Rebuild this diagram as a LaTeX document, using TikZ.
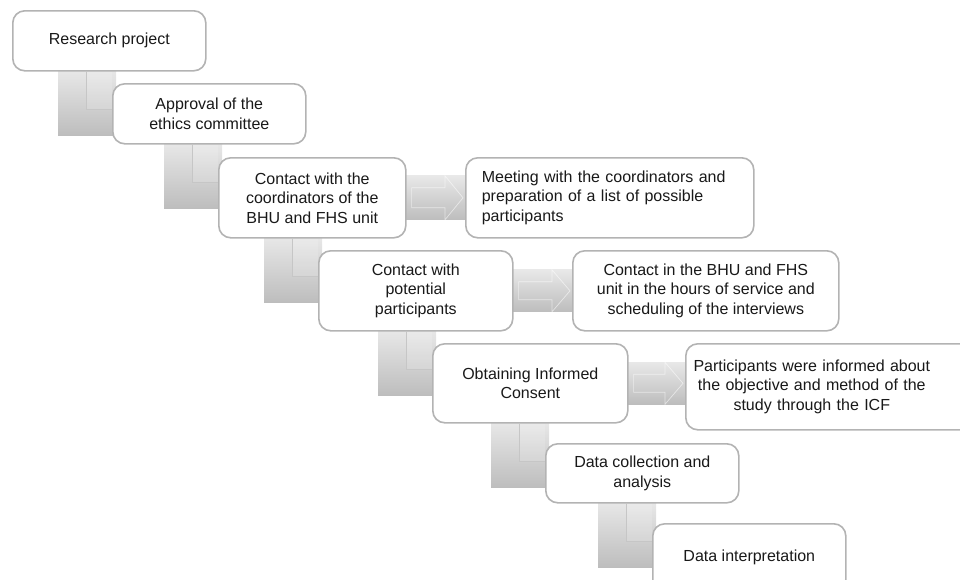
\documentclass[tikz,border=0pt]{standalone}
\usepackage{fontspec}
\setmainfont{Liberation Sans}
\usetikzlibrary{backgrounds}

\definecolor{boxline}{HTML}{B3B3B3}
\definecolor{shadetop}{HTML}{E8E8E8}
\definecolor{shadebot}{HTML}{BDBDBD}
\definecolor{notchline}{HTML}{C6C6C6}

\begin{document}
\begin{tikzpicture}[x=1pt,y=-1pt]
	\tikzstyle{stepbox} = [draw=boxline, line width=1.6pt, fill=white, rounded corners=12pt, anchor=north west, align=center, inner sep=0pt, text=black!90, font=\fontsize{16}{19.5}\selectfont]
	\tikzstyle{grayfill} = [top color=shadetop, bottom color=shadebot]
	\tikzstyle{notchfill} = [fill=white, opacity=0.15]
	\tikzstyle{notch line} = [draw=notchline, line width=0.8pt]
	\tikzstyle{flow line} = [draw=white, line width=0.7pt, opacity=0.55]

	\useasboundingbox (0,0) rectangle (960,579);
	\clip (0,0) rectangle (960,579);

	% steps going down
	\node[stepbox, minimum width=193pt, minimum height=60pt] (research) at (12,10) {Research project};
	\node[stepbox, minimum width=193pt, minimum height=60pt] (ethics) at (112,83) {Approval of the\\ethics committee};
	\node[stepbox, minimum width=187pt, minimum height=80pt] (coord) at (218,157) {Contact with the\\coordinators of the\\BHU and FHS unit};
	\node[stepbox, minimum width=194pt, minimum height=80pt] (contact) at (318,250) {Contact with\\potential\\participants};
	\node[stepbox, minimum width=195pt, minimum height=79pt] (consent) at (432,343) {Obtaining Informed\\Consent};
	\node[stepbox, minimum width=193pt, minimum height=59pt] (collect) at (545,443) {Data collection and\\analysis};
	\node[stepbox, minimum width=193pt, minimum height=68pt] (interp) at (652,523) {Data interpretation};

	% boxes on the side
	\node[stepbox, text width=256pt, inner xsep=16pt, align=left, minimum height=80pt] (meeting) at (465,157) {Meeting with the coordinators and\\preparation of a list of possible\\participants};
	\node[stepbox, minimum width=266pt, minimum height=80pt] (schedule) at (572,250) {Contact in the BHU and FHS\\unit in the hours of service and\\scheduling of the interviews};
	\node[stepbox, text width=292pt, inner xsep=2pt, align=left, minimum height=86pt] (icf) at (685,343) {\parbox{248pt}{\centering Participants were informed about\\the objective and method of the\\study through the ICF}};

	\begin{scope}[on background layer]
		% bent connectors
		\shade[grayfill] ([xshift=-54pt,yshift=2pt]ethics.west |- research.south) rectangle ++(58,66);
		\fill[notchfill] ([xshift=-26pt]ethics.west |- research.south) rectangle ++(26,38);
		\draw[notch line] ([xshift=-26pt]ethics.west |- research.south) -- ++(0,38) -- ++(26,0);

		\shade[grayfill] ([xshift=-54pt,yshift=2pt]coord.west |- ethics.south) rectangle ++(58,66);
		\fill[notchfill] ([xshift=-26pt]coord.west |- ethics.south) rectangle ++(26,38);
		\draw[notch line] ([xshift=-26pt]coord.west |- ethics.south) -- ++(0,38) -- ++(26,0);

		\shade[grayfill] ([xshift=-54pt,yshift=2pt]contact.west |- coord.south) rectangle ++(58,66);
		\fill[notchfill] ([xshift=-26pt]contact.west |- coord.south) rectangle ++(26,38);
		\draw[notch line] ([xshift=-26pt]contact.west |- coord.south) -- ++(0,38) -- ++(26,0);

		\shade[grayfill] ([xshift=-54pt,yshift=2pt]consent.west |- contact.south) rectangle ++(58,66);
		\fill[notchfill] ([xshift=-26pt]consent.west |- contact.south) rectangle ++(26,38);
		\draw[notch line] ([xshift=-26pt]consent.west |- contact.south) -- ++(0,38) -- ++(26,0);

		\shade[grayfill] ([xshift=-54pt,yshift=2pt]collect.west |- consent.south) rectangle ++(58,66);
		\fill[notchfill] ([xshift=-26pt]collect.west |- consent.south) rectangle ++(26,38);
		\draw[notch line] ([xshift=-26pt]collect.west |- consent.south) -- ++(0,38) -- ++(26,0);

		\shade[grayfill] ([xshift=-54pt,yshift=2pt]interp.west |- collect.south) rectangle ++(58,66);
		\fill[notchfill] ([xshift=-26pt]interp.west |- collect.south) rectangle ++(26,38);
		\draw[notch line] ([xshift=-26pt]interp.west |- collect.south) -- ++(0,38) -- ++(26,0);

		% side arrows
		\shade[grayfill] ([xshift=-4pt,yshift=22pt]coord.east) rectangle ([yshift=-22pt]meeting.west |- coord.east);
		\draw[flow line] ([xshift=5pt,yshift=10pt]coord.east) -- ([xshift=-20pt,yshift=10pt]meeting.west |- coord.east) -- ++(0,-12) -- ([xshift=-2pt]meeting.west |- coord.east) -- ([xshift=-20pt,yshift=-22pt]meeting.west |- coord.east) -- ++(0,-12) -- ([xshift=5pt,yshift=-10pt]coord.east) -- cycle;

		\shade[grayfill] ([xshift=-4pt,yshift=21pt]contact.east) rectangle ([yshift=-21pt]schedule.west |- contact.east);
		\draw[flow line] ([xshift=5pt,yshift=9pt]contact.east) -- ([xshift=-20pt,yshift=9pt]schedule.west |- contact.east) -- ++(0,-12) -- ([xshift=-2pt]schedule.west |- contact.east) -- ([xshift=-20pt,yshift=-21pt]schedule.west |- contact.east) -- ++(0,-12) -- ([xshift=5pt,yshift=-9pt]contact.east) -- cycle;

		\shade[grayfill] ([xshift=-4pt,yshift=21pt]consent.east) rectangle ([yshift=-21pt]icf.west |- consent.east);
		\draw[flow line] ([xshift=5pt,yshift=9pt]consent.east) -- ([xshift=-20pt,yshift=9pt]icf.west |- consent.east) -- ++(0,-12) -- ([xshift=-2pt]icf.west |- consent.east) -- ([xshift=-20pt,yshift=-21pt]icf.west |- consent.east) -- ++(0,-12) -- ([xshift=5pt,yshift=-9pt]consent.east) -- cycle;
	\end{scope}
\end{tikzpicture}
\end{document}
